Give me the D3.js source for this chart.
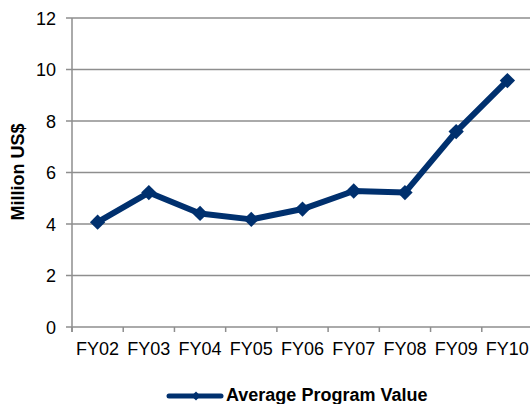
<!DOCTYPE html>
<html>
<head>
<meta charset="utf-8">
<script src="https://cdn.jsdelivr.net/npm/d3@7"></script>
<style>
body { margin: 0; background: #fff; }
svg { display: block; font-family: "Liberation Sans", Arial, sans-serif; }
</style>
</head>
<body>
<div id="chart"></div>
<script>
var years = ["FY02", "FY03", "FY04", "FY05", "FY06", "FY07", "FY08", "FY09", "FY10"];
var avgValue = [4.07, 5.22, 4.41, 4.18, 4.58, 5.28, 5.22, 7.59, 9.57];
var yTicks = [0, 2, 4, 6, 8, 10, 12];

var width = 530, height = 404;
var plotLeft = 72, plotRight = 533, plotTop = 18, plotBottom = 327;
var navy = "#00306e", grid = "#8e8e8e";

var svg = d3.select("#chart").append("svg")
	.attr("width", width)
	.attr("height", height);

var x = d3.scaleBand().domain(years).range([plotLeft, plotRight]);
var y = d3.scaleLinear().domain([0, 12]).range([plotBottom, plotTop]);

// gridlines
svg.selectAll("line.grid").data(yTicks).enter().append("line")
	.attr("class", "grid")
	.attr("x1", plotLeft - 6).attr("x2", width)
	.attr("y1", function(d){ return y(d); })
	.attr("y2", function(d){ return y(d); })
	.attr("stroke", grid)
	.attr("stroke-width", 1.5);

// y axis line
svg.append("line")
	.attr("x1", plotLeft).attr("x2", plotLeft)
	.attr("y1", plotTop).attr("y2", plotBottom + 5)
	.attr("stroke", grid).attr("stroke-width", 1.5);

// x ticks at band edges
var edges = years.map(function(d){ return x(d); }).concat([plotRight]);
svg.selectAll("line.xtick").data(edges).enter().append("line")
	.attr("class", "xtick")
	.attr("x1", function(d){ return d; })
	.attr("x2", function(d){ return d; })
	.attr("y1", plotBottom).attr("y2", plotBottom + 5)
	.attr("stroke", grid).attr("stroke-width", 1.5);

svg.selectAll("text.ylab").data(yTicks).enter().append("text")
	.attr("class", "ylab")
	.attr("x", 56)
	.attr("y", function(d){ return y(d) + 6.5; })
	.attr("text-anchor", "end")
	.attr("font-size", 18)
	.text(function(d){ return d; });

svg.selectAll("text.xlab").data(years).enter().append("text")
	.attr("class", "xlab")
	.attr("x", function(d){ return x(d) + x.bandwidth() / 2; })
	.attr("y", 355)
	.attr("text-anchor", "middle")
	.attr("font-size", 18)
	.text(function(d){ return d; });

svg.append("text")
	.attr("transform", "translate(24,172) rotate(-90)")
	.attr("text-anchor", "middle")
	.attr("font-size", 18)
	.attr("font-weight", "bold")
	.text("Million US$");

// series
var pts = avgValue.map(function(v, i){ return [x(years[i]) + x.bandwidth() / 2, y(v)]; });
svg.append("path")
	.attr("d", d3.line()(pts))
	.attr("fill", "none")
	.attr("stroke", navy)
	.attr("stroke-width", 6)
	.attr("stroke-linejoin", "round");

var diamond = d3.symbol().type(d3.symbolDiamond2).size(150);
svg.selectAll("path.mark").data(pts).enter().append("path")
	.attr("class", "mark")
	.attr("transform", function(d){ return "translate(" + d[0] + "," + d[1] + ")"; })
	.attr("d", diamond())
	.attr("fill", navy);

// legend
svg.append("line")
	.attr("x1", 169).attr("x2", 221)
	.attr("y1", 396).attr("y2", 396)
	.attr("stroke", navy).attr("stroke-width", 5)
	.attr("stroke-linecap", "round");
svg.append("path")
	.attr("transform", "translate(196,396)")
	.attr("d", d3.symbol().type(d3.symbolDiamond2).size(50)())
	.attr("fill", navy);
svg.append("text")
	.attr("x", 226).attr("y", 401)
	.attr("font-size", 18)
	.attr("font-weight", "bold")
	.text("Average Program Value");
</script>
</body>
</html>
